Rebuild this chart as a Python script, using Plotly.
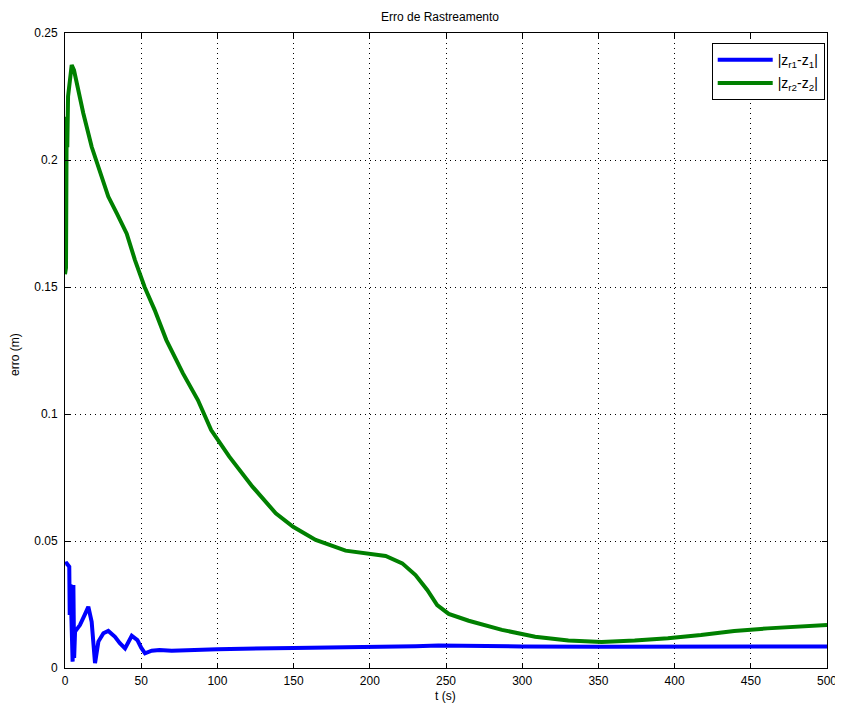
import plotly.graph_objects as go

# Blue series |z_r1 - z_1|
t1 = [0, 1.1, 2.8, 3.1, 3.6, 4.2, 5.0, 5.5, 6.0, 6.6, 9.8, 13, 15.3, 17.5, 19.7, 21.9, 25.2, 28.4,
      32.8, 36, 39.4, 43.8, 47.5, 50, 52.5, 56.9, 62, 70, 80, 100, 150, 200, 230, 245, 260,
      280, 300, 350, 400, 450, 500]
e1 = [0.0410, 0.0412, 0.0399, 0.0209, 0.0330, 0.0100, 0.0025, 0.0327, 0.0040, 0.0143, 0.0169,
      0.0210, 0.0241, 0.0182, 0.0019, 0.0104, 0.0137, 0.0146, 0.0123, 0.0098, 0.0077, 0.0127,
      0.0110, 0.0080, 0.0058, 0.0068, 0.0071, 0.0068, 0.0071, 0.0074, 0.0079, 0.0082, 0.0086,
      0.0089, 0.0087, 0.0085, 0.0085, 0.0084, 0.0084, 0.0084, 0.0085]

# Green series |z_r2 - z_2|
t2 = [0, 0.65, 1.1, 1.5, 2.0, 2.8, 3.5, 4.4, 5.9, 7.6, 12, 17.5, 21.9, 28.4, 34, 38.3, 40.5,
      45.9, 52.3, 58.8, 66.5, 77.4, 87.2, 95.9, 107.8, 123, 138.3, 149.7, 164.5, 184.1, 199.5,
      210.4, 221.3, 230, 237.7, 244.2, 251.8, 264.9, 286.7, 308.5, 330.3, 352, 373.8, 395.6,
      417.3, 439.1, 460.9, 482.7, 500]
e2 = [0.1550, 0.1575, 0.2170, 0.2050, 0.2250, 0.2303, 0.2330, 0.2374, 0.2354, 0.2302, 0.2184,
      0.2052, 0.1974, 0.1856, 0.1790, 0.1737, 0.1710, 0.1606, 0.1499, 0.1410, 0.1291, 0.1160,
      0.1055, 0.0937, 0.0832, 0.0714, 0.0609, 0.0556, 0.0504, 0.0462, 0.0450, 0.0441, 0.0412,
      0.0366, 0.0307, 0.0248, 0.0213, 0.0186, 0.0150, 0.0123, 0.0108, 0.0102, 0.0108, 0.0117,
      0.0130, 0.0146, 0.0156, 0.0165, 0.0169]

x_ticks = [0, 50, 100, 150, 200, 250, 300, 350, 400, 450, 500]
y_ticks = [0, 0.05, 0.1, 0.15, 0.2, 0.25]
y_tick_text = ["0", "0.05", "0.1", "0.15", "0.2", "0.25"]

FONT = "Liberation Sans, Arial, sans-serif"

# page body adds an 8px margin, so the figure is 835x703
W, H = 835, 703
L, R, T, B = 57, 16, 25, 43
PW, PH = W - L - R, H - T - B

fig = go.Figure()
fig.add_trace(go.Scatter(x=t1, y=e1, mode="lines", name="|z<sub>r1</sub>-z<sub>1</sub>|",
                         legendgroup="a",
                         line=dict(color="rgb(0,0,255)", width=4)))
fig.add_trace(go.Scatter(x=t2, y=e2, mode="lines", name="|z<sub>r2</sub>-z<sub>2</sub>|",
                         legendgroup="b",
                         line=dict(color="rgb(0,128,0)", width=4)))

axis_common = dict(
    showline=True, linecolor="black", linewidth=1, mirror="ticks",
    ticks="inside", ticklen=5, tickcolor="black", tickwidth=1,
    showgrid=True, gridcolor="black", gridwidth=1, griddash="1px,4px",
    zeroline=False, automargin=False,
    tickfont=dict(family=FONT, size=12, color="black"),
)

fig.update_layout(
    width=W, height=H,
    margin=dict(l=L, r=R, t=T, b=B, autoexpand=False),
    paper_bgcolor="white", plot_bgcolor="white",
    title=dict(text="Erro de Rastreamento", x=432 / W, xanchor="center",
               y=1 - 9 / H, yanchor="middle",
               font=dict(family=FONT, size=12, color="black"), automargin=False),
    xaxis=dict(range=[0, 500], tickvals=x_ticks, ticklabelstandoff=2, **axis_common),
    yaxis=dict(range=[0, 0.25], tickvals=y_ticks, ticktext=y_tick_text,
               ticklabelstandoff=4, **axis_common),
    legend=dict(x=0.997, xanchor="right", y=0.984, yanchor="top",
                bgcolor="white", bordercolor="black", borderwidth=1, tracegroupgap=2,
                font=dict(family=FONT, size=14, color="black"), itemwidth=55),
    showlegend=True,
    annotations=[
        dict(text="t (s)", xref="paper", yref="paper", x=(437 - L) / PW,
             y=-(688 - (H - B)) / PH, xanchor="center", yanchor="middle", showarrow=False,
             font=dict(family=FONT, size=12, color="black")),
        dict(text="erro (m)", xref="paper", yref="paper", x=-(L - 7) / PW,
             y=((H - B) - 347) / PH, xanchor="center", yanchor="middle", showarrow=False,
             textangle=-90, font=dict(family=FONT, size=12, color="black")),
    ],
)

fig.write_html("out.html")
